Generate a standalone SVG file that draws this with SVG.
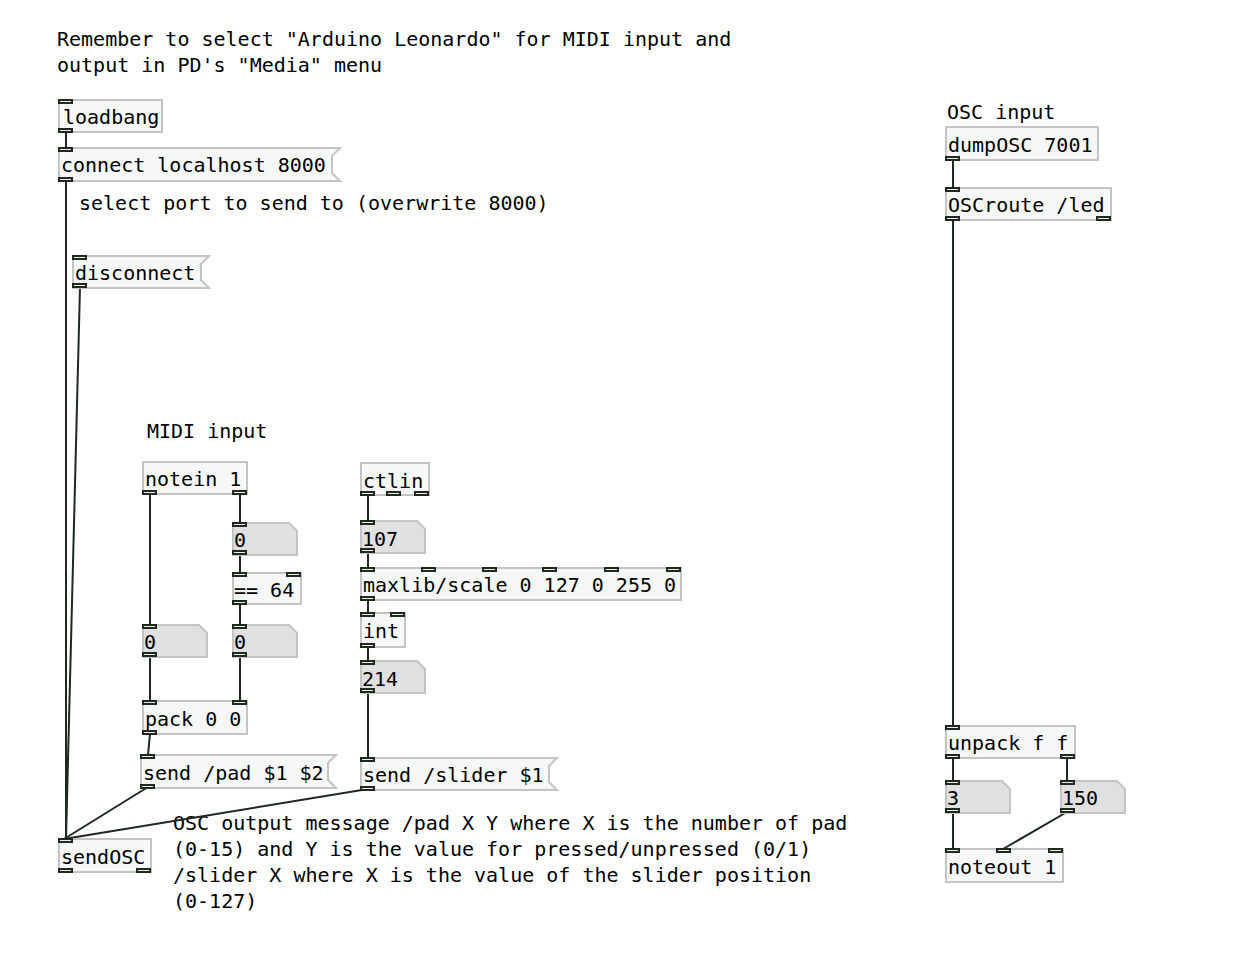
<svg xmlns="http://www.w3.org/2000/svg" width="1252" height="966" viewBox="0 0 1252 966">
<style>
text{font-family:"DejaVu Sans Mono","Liberation Mono",monospace;font-size:20px;fill:#000}
.box{fill:#f6f8f8;stroke:#c4c4c4;stroke-width:2}
.num{fill:#e0e0e0;stroke:#c4c4c4;stroke-width:2}
.io{fill:#eef0ee;stroke:#1e2a1e;stroke-width:2}
.cn{stroke:#1e2a1e;stroke-width:2;fill:none}
</style>
<rect width="1252" height="966" fill="#fff"/>
<g id="comments">
<text x="57" y="46">Remember to select "Arduino Leonardo" for MIDI input and</text>
<text x="57" y="72">output in PD's "Media" menu</text>
<text x="79" y="210">select port to send to (overwrite 8000)</text>
<text x="147" y="438">MIDI input</text>
<text x="947" y="119">OSC input</text>
<text x="173" y="830">OSC output message /pad X Y where X is the number of pad</text>
<text x="173" y="856">(0-15) and Y is the value for pressed/unpressed (0/1)</text>
<text x="173" y="882">/slider X where X is the value of the slider position</text>
<text x="173" y="908">(0-127)</text>
</g>
<g id="connectors">
<line class="cn" x1="66" y1="132" x2="66" y2="148"/>
<line class="cn" x1="66" y1="181" x2="66" y2="839"/>
<line class="cn" x1="80" y1="287" x2="66" y2="839"/>
<line class="cn" x1="148" y1="787" x2="64" y2="839"/>
<line class="cn" x1="368" y1="789" x2="64" y2="839"/>
<line class="cn" x1="150" y1="494" x2="150" y2="625"/>
<line class="cn" x1="240" y1="494" x2="240" y2="523"/>
<line class="cn" x1="240" y1="554" x2="240" y2="573"/>
<line class="cn" x1="240" y1="604" x2="240" y2="625"/>
<line class="cn" x1="150" y1="656" x2="150" y2="701"/>
<line class="cn" x1="240" y1="656" x2="240" y2="701"/>
<line class="cn" x1="150" y1="734" x2="148" y2="755"/>
<line class="cn" x1="368" y1="495" x2="368" y2="521"/>
<line class="cn" x1="368" y1="552" x2="368" y2="568"/>
<line class="cn" x1="368" y1="600" x2="368" y2="613"/>
<line class="cn" x1="368" y1="647" x2="368" y2="661"/>
<line class="cn" x1="368" y1="692" x2="368" y2="758"/>
<line class="cn" x1="953" y1="160" x2="953" y2="188"/>
<line class="cn" x1="953" y1="220" x2="953" y2="726"/>
<line class="cn" x1="953" y1="758" x2="953" y2="781"/>
<line class="cn" x1="1067" y1="758" x2="1067" y2="781"/>
<line class="cn" x1="953" y1="812" x2="953" y2="849"/>
<line class="cn" x1="1067" y1="812" x2="1003" y2="849"/>
</g>
<g id="loadbang">
<rect class="box" x="59" y="100" width="103" height="32"/>
<text x="63" y="124">loadbang</text>
<rect class="io" x="59" y="100" width="13" height="3"/>
<rect class="io" x="59" y="129" width="13" height="3"/>
</g>
<g id="msg-connect">
<path class="box" d="M59 148H340L332 156V173L340 181H59Z"/>
<text x="61" y="172">connect localhost 8000</text>
<rect class="io" x="59" y="148" width="13" height="3"/>
<rect class="io" x="59" y="178" width="13" height="3"/>
</g>
<g id="msg-disconnect">
<path class="box" d="M73 256H209L201 264V280L209 288H73Z"/>
<text x="75" y="280">disconnect</text>
<rect class="io" x="73" y="256" width="13" height="3"/>
<rect class="io" x="73" y="284" width="13" height="3"/>
</g>
<g id="notein">
<rect class="box" x="143" y="462" width="104" height="32"/>
<text x="145" y="486">notein 1</text>
<rect class="io" x="143" y="491" width="13" height="3"/>
<rect class="io" x="233" y="491" width="13" height="3"/>
</g>
<g id="num-vel">
<path class="num" d="M233 523H289L297 531V555H233Z"/>
<text x="234" y="547">0</text>
<rect class="io" x="233" y="523" width="13" height="3"/>
<rect class="io" x="233" y="551" width="13" height="3"/>
</g>
<g id="eq64">
<rect class="box" x="233" y="573" width="68" height="31"/>
<text x="234" y="597">== 64</text>
<rect class="io" x="233" y="573" width="13" height="3"/>
<rect class="io" x="287" y="573" width="13" height="3"/>
<rect class="io" x="233" y="601" width="13" height="3"/>
</g>
<g id="num-note">
<path class="num" d="M143 625H199L207 633V657H143Z"/>
<text x="144" y="649">0</text>
<rect class="io" x="143" y="625" width="13" height="3"/>
<rect class="io" x="143" y="653" width="13" height="3"/>
</g>
<g id="num-eq">
<path class="num" d="M233 625H289L297 633V657H233Z"/>
<text x="234" y="649">0</text>
<rect class="io" x="233" y="625" width="13" height="3"/>
<rect class="io" x="233" y="653" width="13" height="3"/>
</g>
<g id="pack">
<rect class="box" x="143" y="701" width="104" height="33"/>
<text x="145" y="726">pack 0 0</text>
<rect class="io" x="143" y="701" width="13" height="3"/>
<rect class="io" x="233" y="701" width="13" height="3"/>
<rect class="io" x="143" y="731" width="13" height="3"/>
</g>
<g id="msg-pad">
<path class="box" d="M141 755H336L328 763V780L336 788H141Z"/>
<text x="143" y="780">send /pad $1 $2</text>
<rect class="io" x="141" y="755" width="13" height="3"/>
<rect class="io" x="141" y="785" width="13" height="3"/>
</g>
<g id="ctlin">
<rect class="box" x="361" y="463" width="68" height="32"/>
<text x="363" y="488">ctlin</text>
<rect class="io" x="361" y="492" width="13" height="3"/>
<rect class="io" x="387" y="492" width="13" height="3"/>
<rect class="io" x="415" y="492" width="13" height="3"/>
</g>
<g id="num-107">
<path class="num" d="M361 521H417L425 529V553H361Z"/>
<text x="362" y="546">107</text>
<rect class="io" x="361" y="521" width="13" height="3"/>
<rect class="io" x="361" y="549" width="13" height="3"/>
</g>
<g id="scale">
<rect class="box" x="361" y="568" width="320" height="32"/>
<text x="363" y="592">maxlib/scale 0 127 0 255 0</text>
<rect class="io" x="361" y="568" width="13" height="3"/>
<rect class="io" x="422" y="568" width="13" height="3"/>
<rect class="io" x="483" y="568" width="13" height="3"/>
<rect class="io" x="543" y="568" width="13" height="3"/>
<rect class="io" x="605" y="568" width="13" height="3"/>
<rect class="io" x="667" y="568" width="13" height="3"/>
<rect class="io" x="361" y="597" width="13" height="3"/>
</g>
<g id="int">
<rect class="box" x="361" y="613" width="44" height="34"/>
<text x="363" y="638">int</text>
<rect class="io" x="361" y="613" width="13" height="3"/>
<rect class="io" x="391" y="613" width="13" height="3"/>
<rect class="io" x="361" y="644" width="13" height="3"/>
</g>
<g id="num-214">
<path class="num" d="M361 661H417L425 669V693H361Z"/>
<text x="362" y="686">214</text>
<rect class="io" x="361" y="661" width="13" height="3"/>
<rect class="io" x="361" y="689" width="13" height="3"/>
</g>
<g id="msg-slider">
<path class="box" d="M361 758H557L549 766V782L557 790H361Z"/>
<text x="363" y="782">send /slider $1</text>
<rect class="io" x="361" y="758" width="13" height="3"/>
<rect class="io" x="361" y="787" width="13" height="3"/>
</g>
<g id="sendOSC">
<rect class="box" x="59" y="839" width="92" height="33"/>
<text x="61" y="864">sendOSC</text>
<rect class="io" x="59" y="839" width="13" height="3"/>
<rect class="io" x="59" y="869" width="13" height="3"/>
<rect class="io" x="137" y="869" width="13" height="3"/>
</g>
<g id="dumpOSC">
<rect class="box" x="946" y="127" width="152" height="33"/>
<text x="948" y="152">dumpOSC 7001</text>
<rect class="io" x="946" y="157" width="13" height="3"/>
</g>
<g id="OSCroute">
<rect class="box" x="946" y="188" width="165" height="32"/>
<text x="948" y="212">OSCroute /led</text>
<rect class="io" x="946" y="188" width="13" height="3"/>
<rect class="io" x="946" y="217" width="13" height="3"/>
<rect class="io" x="1097" y="217" width="13" height="3"/>
</g>
<g id="unpack">
<rect class="box" x="946" y="726" width="129" height="32"/>
<text x="948" y="750">unpack f f</text>
<rect class="io" x="946" y="726" width="13" height="3"/>
<rect class="io" x="946" y="755" width="13" height="3"/>
<rect class="io" x="1061" y="755" width="13" height="3"/>
</g>
<g id="num-3">
<path class="num" d="M946 781H1002L1010 789V813H946Z"/>
<text x="947" y="805">3</text>
<rect class="io" x="946" y="781" width="13" height="3"/>
<rect class="io" x="946" y="809" width="13" height="3"/>
</g>
<g id="num-150">
<path class="num" d="M1061 781H1117L1125 789V813H1061Z"/>
<text x="1062" y="805">150</text>
<rect class="io" x="1061" y="781" width="13" height="3"/>
<rect class="io" x="1061" y="809" width="13" height="3"/>
</g>
<g id="noteout">
<rect class="box" x="946" y="849" width="117" height="33"/>
<text x="948" y="874">noteout 1</text>
<rect class="io" x="946" y="849" width="13" height="3"/>
<rect class="io" x="997" y="849" width="13" height="3"/>
<rect class="io" x="1049" y="849" width="13" height="3"/>
</g>
</svg>
